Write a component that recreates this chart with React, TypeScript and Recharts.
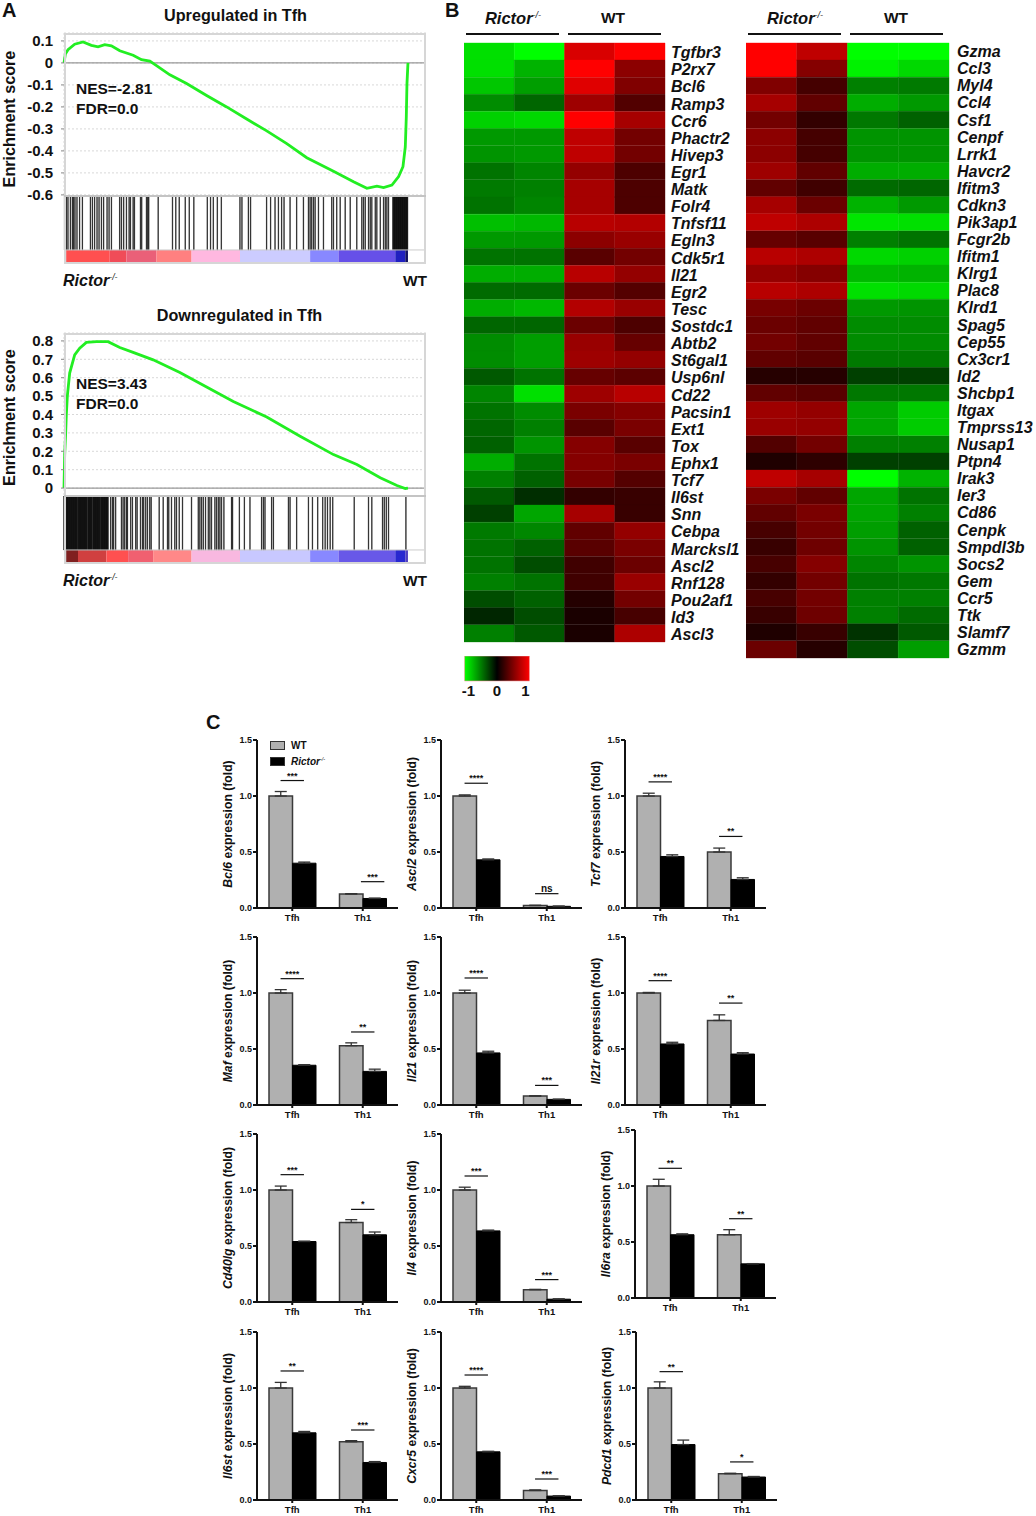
import React from "react";
import {
  Bar,
  BarChart,
  CartesianGrid,
  Cell,
  ComposedChart,
  ErrorBar,
  Legend,
  Line,
  LineChart,
  ReferenceArea,
  ReferenceLine,
  XAxis,
  YAxis,
} from "recharts";

const FONT = '"Liberation Sans", Arial, sans-serif';

// ---- panel A: GSEA running scores, x is gene rank in arbitrary units
const upRank = [0, 4, 12, 32, 57, 82, 102, 122, 142, 167, 207, 232, 257, 277, 317, 367, 427, 487, 547, 607, 667, 727, 807, 867, 907, 937, 957, 982, 1002, 1015, 1022, 1025, 1027, 1030];
const upScore = [0, 0.04, 0.06, 0.085, 0.095, 0.08, 0.073, 0.083, 0.078, 0.055, 0.035, 0.015, 0.008, -0.012, -0.054, -0.094, -0.148, -0.2, -0.255, -0.309, -0.367, -0.431, -0.492, -0.54, -0.57, -0.56, -0.567, -0.555, -0.517, -0.472, -0.382, -0.246, -0.095, 0];
const downRank = [0, 2, 5, 7, 10, 17, 32, 47, 67, 97, 132, 167, 207, 267, 347, 427, 507, 607, 707, 807, 877, 947, 997, 1022, 1030];
const downScore = [0, 0.18, 0.3, 0.4, 0.5, 0.625, 0.724, 0.76, 0.792, 0.796, 0.796, 0.764, 0.738, 0.697, 0.628, 0.549, 0.471, 0.386, 0.282, 0.182, 0.128, 0.056, 0.014, -0.002, 0];

const upHits = [2, 7, 12, 19, 25, 29, 33, 39, 47, 55, 79, 85, 92, 99, 105, 112, 119, 129, 135, 142, 167, 172, 179, 187, 195, 199, 207, 211, 229, 233, 247, 251, 254, 282, 325, 335, 345, 363, 375, 389, 429, 439, 447, 459, 471, 527, 533, 552, 559, 607, 619, 632, 642, 652, 659, 677, 697, 717, 732, 737, 742, 747, 752, 762, 777, 802, 807, 817, 827, 842, 857, 877, 892, 897, 902, 912, 917, 922, 932, 937, 947, 957, 962, 967, 972, 985, 987, 989, 991, 993, 995, 997, 999, 1001, 1003, 1005, 1007, 1009, 1011, 1013, 1015, 1017, 1019, 1021, 1023, 1025, 1027, 1029];
const downHits = [0, 2, 4, 6, 8, 10, 12, 14, 16, 18, 20, 22, 24, 26, 28, 30, 32, 34, 36, 38, 40, 43, 45, 47, 49, 51, 53, 55, 57, 59, 61, 63, 65, 67, 69, 72, 74, 76, 78, 80, 82, 84, 87, 89, 91, 93, 95, 97, 99, 101, 103, 105, 107, 110, 112, 114, 116, 118, 120, 122, 124, 126, 128, 130, 132, 140, 145, 149, 155, 172, 177, 182, 187, 190, 200, 205, 215, 219, 229, 235, 239, 245, 250, 257, 261, 285, 297, 310, 314, 322, 332, 337, 345, 355, 382, 402, 407, 412, 417, 424, 432, 437, 442, 452, 457, 462, 467, 472, 479, 502, 505, 525, 540, 557, 592, 597, 602, 622, 627, 672, 677, 697, 732, 744, 760, 775, 782, 789, 797, 805, 869, 912, 922, 954, 959, 965, 972, 1024];

const upStripEdges = [0, 7, 137, 187, 277, 382, 527, 737, 822, 992, 1022, 1030];
const downStripEdges = [0, 7, 42, 127, 192, 267, 382, 527, 737, 822, 992, 1022, 1030];
const upStripColors = ["#b42828", "#ff5050", "#f04c58", "#ea6078", "#ff8080", "#ffb8e0", "#ccccff", "#8888ff", "#6650e8", "#2020c0", "#101060"];
const downStripColors = ["#300808", "#802020", "#d04040", "#ff5050", "#f06070", "#ff8888", "#f8b8e0", "#c8c8ff", "#8888ff", "#6858e8", "#2828d0", "#5040c0"];

const rankGridTicks = [113, 231, 349, 467, 585, 703, 821, 939, 1057];
const upTicks = [-0.6, -0.5, -0.4, -0.3, -0.2, -0.1, 0, 0.1];
const downTicks = [0, 0.1, 0.2, 0.3, 0.4, 0.5, 0.6, 0.7, 0.8];

// ---- panel B: heatmaps, z-scores for Rictor-/- (2) then WT (2)
const leftGenes = ["Tgfbr3", "P2rx7", "Bcl6", "Ramp3", "Ccr6", "Phactr2", "Hivep3", "Egr1", "Matk", "Folr4", "Tnfsf11", "Egln3", "Cdk5r1", "Il21", "Egr2", "Tesc", "Sostdc1", "Abtb2", "St6gal1", "Usp6nl", "Cd22", "Pacsin1", "Ext1", "Tox", "Ephx1", "Tcf7", "Il6st", "Snn", "Cebpa", "Marcksl1", "Ascl2", "Rnf128", "Pou2af1", "Id3", "Ascl3"];
const leftZ = [
  [-0.88, -1, 0.85, 1], [-0.88, -0.7, 1, 0.55], [-0.78, -0.62, 0.88, 0.5], [-0.55, -0.4, 0.62, 0.32], [-0.82, -0.85, 1, 0.65],
  [-0.6, -0.6, 0.75, 0.45], [-0.58, -0.6, 0.75, 0.45], [-0.45, -0.52, 0.58, 0.3], [-0.48, -0.5, 0.65, 0.3], [-0.45, -0.52, 0.65, 0.3],
  [-0.75, -0.72, 0.72, 0.7], [-0.6, -0.6, 0.55, 0.6], [-0.45, -0.45, 0.35, 0.45], [-0.68, -0.68, 0.72, 0.58], [-0.42, -0.42, 0.42, 0.33],
  [-0.68, -0.72, 0.7, 0.6], [-0.4, -0.4, 0.42, 0.3], [-0.55, -0.62, 0.6, 0.4], [-0.55, -0.62, 0.62, 0.58], [-0.35, -0.45, 0.4, 0.36],
  [-0.52, -0.88, 0.62, 0.72], [-0.45, -0.55, 0.48, 0.52], [-0.4, -0.5, 0.35, 0.48], [-0.38, -0.58, 0.52, 0.35], [-0.68, -0.45, 0.52, 0.48],
  [-0.5, -0.38, 0.47, 0.33], [-0.35, -0.18, 0.2, 0.22], [-0.25, -0.65, 0.65, 0.22], [-0.48, -0.53, 0.38, 0.58], [-0.45, -0.38, 0.35, 0.48],
  [-0.45, -0.3, 0.25, 0.42], [-0.5, -0.45, 0.25, 0.6], [-0.3, -0.38, 0.14, 0.45], [-0.15, -0.3, 0.1, 0.28], [-0.5, -0.35, 0.1, 0.68],
];
const rightGenes = ["Gzma", "Ccl3", "Myl4", "Ccl4", "Csf1", "Cenpf", "Lrrk1", "Havcr2", "Ifitm3", "Cdkn3", "Pik3ap1", "Fcgr2b", "Ifitm1", "Klrg1", "Plac8", "Klrd1", "Spag5", "Cep55", "Cx3cr1", "Id2", "Shcbp1", "Itgax", "Tmprss13", "Nusap1", "Ptpn4", "Irak3", "Ier3", "Cd86", "Cenpk", "Smpdl3b", "Socs2", "Gem", "Ccr5", "Ttk", "Slamf7", "Gzmm"];
const rightZ = [
  [1, 0.75, -1, -1], [1, 0.52, -0.95, -0.85], [0.5, 0.27, -0.5, -0.48], [0.65, 0.38, -0.68, -0.6], [0.45, 0.2, -0.47, -0.38],
  [0.55, 0.27, -0.58, -0.58], [0.55, 0.27, -0.58, -0.58], [0.62, 0.38, -0.68, -0.68], [0.38, 0.25, -0.42, -0.4], [0.65, 0.42, -0.7, -0.6],
  [0.75, 0.68, -0.9, -0.88], [0.4, 0.35, -0.5, -0.45], [0.72, 0.68, -0.85, -0.82], [0.58, 0.52, -0.72, -0.7], [0.72, 0.68, -0.88, -0.85],
  [0.47, 0.42, -0.6, -0.58], [0.42, 0.38, -0.55, -0.55], [0.45, 0.38, -0.55, -0.55], [0.38, 0.35, -0.48, -0.48], [0.15, 0.15, -0.25, -0.25],
  [0.38, 0.35, -0.47, -0.47], [0.62, 0.58, -0.65, -0.8], [0.6, 0.58, -0.65, -0.8], [0.32, 0.45, -0.5, -0.5], [0.12, 0.18, -0.25, -0.25],
  [0.75, 0.65, -1, -0.7], [0.48, 0.38, -0.65, -0.45], [0.38, 0.48, -0.65, -0.5], [0.28, 0.45, -0.62, -0.38], [0.22, 0.43, -0.58, -0.38],
  [0.28, 0.52, -0.52, -0.58], [0.2, 0.45, -0.45, -0.47], [0.28, 0.45, -0.5, -0.5], [0.22, 0.43, -0.5, -0.42], [0.12, 0.22, -0.2, -0.35],
  [0.42, 0.15, -0.3, -0.62],
];
const sampleKeys = ["ko1", "ko2", "wt1", "wt2"];
const scaleTicks = [-1, 0, 1];

// ---- panel C: qPCR bars, [Tfh, Th1] per panel
const panelGenes = ["Bcl6", "Ascl2", "Tcf7", "Maf", "Il21", "Il21r", "Cd40lg", "Il4", "Il6ra", "Il6st", "Cxcr5", "Pdcd1"];
const groups = ["Tfh", "Th1"];
const wtValues = [[1, 0.125], [1, 0.022], [1, 0.5], [1, 0.53], [1, 0.08], [1, 0.755], [1, 0.71], [1, 0.11], [1, 0.565], [1, 0.52], [1, 0.085], [1, 0.235]];
const koValues = [[0.4, 0.085], [0.43, 0.015], [0.46, 0.255], [0.355, 0.3], [0.465, 0.05], [0.545, 0.455], [0.54, 0.6], [0.635, 0.025], [0.565, 0.305], [0.6, 0.335], [0.43, 0.035], [0.495, 0.205]];
const wtErrors = [[0.04, 0.003], [0.01, 0.002], [0.025, 0.035], [0.03, 0.025], [0.025, 0.002], [0.005, 0.05], [0.035, 0.025], [0.025, 0.003], [0.06, 0.045], [0.05, 0.01], [0.015, 0.005], [0.055, 0.004]];
const koErrors = [[0.01, 0.003], [0.008, 0.002], [0.015, 0.015], [0.005, 0.02], [0.015, 0.002], [0.015, 0.012], [0.003, 0.025], [0.007, 0.003], [0.008, 0.002], [0.012, 0.008], [0.005, 0.003], [0.04, 0.005]];
const sigLabels = [["***", "***"], ["****", "ns"], ["****", "**"], ["****", "**"], ["****", "***"], ["****", "**"], ["***", "*"], ["***", "***"], ["**", "**"], ["**", "***"], ["****", "***"], ["**", "*"]];
const sigHeights = [[1.138, 0.235], [1.114, 0.128], [1.126, 0.639], [1.128, 0.652], [1.134, 0.175], [1.11, 0.91], [1.137, 0.827], [1.125, 0.2], [1.158, 0.708], [1.152, 0.625], [1.116, 0.1875], [1.146, 0.34]];
const foldTicks = [0, 0.5, 1, 1.5];

// where each of the twelve small charts sits: y-axis x, value 1.5 y
const panelSpots = [
  [257, 740], [441, 740], [625, 740],
  [257, 937], [441, 937], [625, 937],
  [257, 1134], [441, 1134], [635, 1130],
  [257, 1332], [441, 1332], [636, 1332],
];

const zColor = (z: number) =>
  z >= 0 ? `rgb(${Math.round(255 * z)},0,0)` : `rgb(0,${Math.round(-255 * z)},0)`;

function Rictor({ size }: { size: number }) {
  return (
    <span style={{ fontStyle: "italic", fontWeight: "bold", fontSize: size, whiteSpace: "nowrap" }}>
      Rictor
      <span style={{ fontSize: size * 0.55, position: "relative", top: -size * 0.35, fontWeight: "normal" }}>-/-</span>
    </span>
  );
}

function Place({ x, y, center, right, children, style }: any) {
  const shift = center ? "translate(-50%,-50%)" : right ? "translate(-100%,-50%)" : "translateY(-50%)";
  return (
    <div style={{ position: "absolute", left: x, top: y, transform: shift, whiteSpace: "nowrap", color: "#111", fontWeight: "bold", ...style }}>
      {children}
    </div>
  );
}

function GseaPanel({ top, title, titleX, nes, ranks, scores, hits, edges, colors, ticks, domain, plotH, nesY, labelShift }: any) {
  const rows = ranks.map((rank: number, i: number) => ({ rank, score: scores[i] }));
  const hitRows = hits.map((rank: number) => ({ rank, hit: 1 }));
  return (
    <>
      <Place x={titleX} y={top - 18.5} center style={{ fontSize: 16.2 }}>{title}</Place>
      <div style={{ position: "absolute", left: 0, top: top + plotH }}>
        <ComposedChart width={426} height={68} data={hitRows} margin={{ top: 0, right: 0, bottom: 0, left: 0 }}>
          <XAxis dataKey="rank" type="number" domain={[0, 1084]} ticks={rankGridTicks} tick={false} tickLine={false} axisLine={false} height={0} />
          <YAxis type="number" domain={[-0.26, 1]} width={64} tick={false} tickLine={false} axisLine={false} />
          {colors.map((c: string, i: number) => (
            <ReferenceArea key={i} x1={edges[i]} x2={edges[i + 1]} y1={-0.26} y2={0} fill={c} fillOpacity={1} stroke="none" />
          ))}
          <ReferenceLine y={0} stroke="#ccc" />
          <Bar dataKey="hit" fill="#000" stroke="#000" strokeWidth={0.4} barSize={1.4} isAnimationActive={false} />
        </ComposedChart>
      </div>
      <div style={{ position: "absolute", left: 0, top: top - 8 }}>
        <LineChart width={426} height={plotH + 16} data={rows} margin={{ top: 8, right: 0, bottom: 8, left: 0 }}>
          <CartesianGrid stroke="#d8d8d8" strokeDasharray="2 2" />
          <XAxis dataKey="rank" type="number" domain={[0, 1084]} ticks={rankGridTicks} tick={false} tickLine={false} axisLine={false} height={0} />
          <YAxis
            type="number"
            domain={domain}
            ticks={ticks}
            interval={0}
            width={64}
            axisLine={false}
            tickSize={3}
            tickMargin={8}
            stroke="#888"
            tick={{ fontSize: 15, fontWeight: "bold", fill: "#111" }}
            tickFormatter={(v: number) => String(v)}
            label={({ viewBox }: any) => {
              const cy = viewBox.y + viewBox.height / 2 + labelShift;
              return (
                <text x={9} y={cy} transform={`rotate(-90 9 ${cy})`} textAnchor="middle" dominantBaseline="central" fontSize={16.2} fontWeight="bold" fill="#111">
                  Enrichment score
                </text>
              );
            }}
          />
          <ReferenceLine y={0} stroke="#999" strokeWidth={1.2} />
          <Line dataKey="score" type="linear" stroke="#22ee22" strokeWidth={2.8} dot={false} isAnimationActive={false} />
        </LineChart>
      </div>
      <div style={{ position: "absolute", left: 64, top, width: 362, height: plotH + 68, border: "2px solid #d6d6d6", boxSizing: "border-box" }} />
      <div style={{ position: "absolute", left: 64, top: top + plotH - 1, width: 362, height: 2, background: "#c4c4c4" }} />
      <Place x={76} y={nesY} style={{ fontSize: 15.5 }}>{nes}</Place>
      <Place x={76} y={nesY + 19.5} style={{ fontSize: 15.5 }}>FDR=0.0</Place>
      <Place x={63} y={top + 248} style={{ fontSize: 16 }}><Rictor size={16} /></Place>
      <Place x={427} y={top + 248} right style={{ fontSize: 15.5 }}>WT</Place>
    </>
  );
}

function Heatmap({ left, width, height, genes, z, labelWidth, labelGap, labelDy }: any) {
  const rows = genes.map((gene: string) => ({ gene, ko1: 1, ko2: 1, wt1: 1, wt2: 1 }));
  return (
    <div style={{ position: "absolute", left, top: 39 }}>
      <BarChart width={width + labelWidth} height={height + 8} data={rows} layout="vertical" barCategoryGap={0} margin={{ top: 4, right: 0, bottom: 4, left: 0 }}>
        <XAxis type="number" domain={[0, 4]} hide />
        <YAxis
          type="category"
          dataKey="gene"
          orientation="right"
          width={labelWidth}
          interval={0}
          axisLine={false}
          tickLine={false}
          tickSize={labelGap}
          tickMargin={0}
          tick={{ fontSize: 16, fontWeight: "bold", fontStyle: "italic", fill: "#111", dy: labelDy }}
        />
        {sampleKeys.map((key, col) => (
          <Bar key={key} dataKey={key} stackId="s" isAnimationActive={false}>
            {rows.map((_: any, row: number) => (
              <Cell key={row} fill={zColor(z[row][col])} stroke={zColor(z[row][col])} strokeWidth={0.4} />
            ))}
          </Bar>
        ))}
      </BarChart>
    </div>
  );
}

function ColorScale() {
  return (
    <div style={{ position: "absolute", left: 454, top: 656 }}>
      <BarChart width={86} height={50} data={[{ v: 0, h: 1 }]} margin={{ top: 0, right: 0, bottom: 0, left: 0 }}>
        <defs>
          <linearGradient id="zScale" x1="0" x2="1" y1="0" y2="0">
            <stop offset="0" stopColor="#00ff00" />
            <stop offset="0.5" stopColor="#000" />
            <stop offset="1" stopColor="#ff0000" />
          </linearGradient>
        </defs>
        <XAxis
          dataKey="v"
          type="number"
          domain={[-1.51, 1.51]}
          ticks={scaleTicks}
          interval={0}
          axisLine={false}
          tickLine={false}
          height={25}
          tickSize={0}
          tickMargin={4}
          tick={{ fontSize: 15, fontWeight: "bold", fill: "#111" }}
        />
        <YAxis type="number" domain={[0, 1]} width={0} tick={false} tickLine={false} axisLine={false} />
        <ReferenceArea x1={-1.14} x2={1.14} y1={0} y2={1} fill="url(#zScale)" fillOpacity={1} stroke="#f4a0a0" strokeWidth={0.6} />
        <Bar dataKey="h" fill="none" stroke="none" isAnimationActive={false} />
      </BarChart>
    </div>
  );
}

function FoldLegend({ payload }: any) {
  return (
    <div style={{ fontFamily: FONT }}>
      {(payload || []).map((item: any) => (
        <div key={item.value} style={{ display: "flex", alignItems: "center", height: 16, fontSize: 10, fontWeight: "bold", color: "#111" }}>
          <span style={{ width: 13, height: 7, background: item.color, border: "1.5px solid #333", marginRight: 6, display: "inline-block" }} />
          {item.value === "WT" ? "WT" : <Rictor size={10} />}
        </div>
      ))}
    </div>
  );
}

function FoldPanel({ index }: { index: number }) {
  const [axisX, topY] = panelSpots[index];
  const gene = panelGenes[index];
  const rows = groups.map((group, i) => ({
    pos: i + 0.5,
    group,
    wt: wtValues[index][i],
    ko: koValues[index][i],
    wtErr: [0, wtErrors[index][i]],
    koErr: [0, koErrors[index][i]],
  }));
  return (
    <div style={{ position: "absolute", left: axisX - 50, top: topY - 10 }}>
      <BarChart width={201} height={202} data={rows} barGap={0} margin={{ top: 10, right: 10, bottom: 0, left: 0 }}>
        <XAxis
          dataKey="pos"
          type="number"
          domain={[0, 2]}
          ticks={[0.5, 1.5]}
          interval={0}
          height={24}
          stroke="#111"
          strokeWidth={2}
          tickSize={3}
          tickMargin={3}
          tick={{ fontSize: 9.5, fontWeight: "bold", fill: "#111" }}
          tickFormatter={(v: number) => groups[Math.floor(v)]}
        />
        <YAxis
          type="number"
          domain={[0, 1.5]}
          ticks={foldTicks}
          interval={0}
          width={50}
          stroke="#111"
          strokeWidth={2}
          tickSize={4}
          tickMargin={1}
          tick={{ fontSize: 9, fontWeight: "bold", fill: "#111" }}
          tickFormatter={(v: number) => v.toFixed(1)}
          label={({ viewBox }: any) => {
            const cy = viewBox.y + viewBox.height / 2;
            return (
              <text x={21} y={cy} transform={`rotate(-90 21 ${cy})`} textAnchor="middle" dominantBaseline="central" fontSize={12.2} fontWeight="bold" fill="#111">
                <tspan fontStyle="italic">{gene}</tspan> expression (fold)
              </text>
            );
          }}
        />
        {index === 0 && (
          <Legend
            layout="horizontal"
            verticalAlign="middle"
            align="center"
            itemSorter={null}
            content={<FoldLegend />}
            wrapperStyle={{ left: 63, top: 7, width: 90, height: 32 }}
          />
        )}
        <Bar dataKey="wt" name="WT" fill="#b0b0b0" stroke="#3a3a3a" strokeWidth={1.5} barSize={23.5} isAnimationActive={false}>
          <ErrorBar dataKey="wtErr" direction="y" width={6} stroke="#333" strokeWidth={1.3} isAnimationActive={false} />
        </Bar>
        <Bar dataKey="ko" name="Rictor-/-" fill="#000" stroke="#000" strokeWidth={1} barSize={23.5} isAnimationActive={false}>
          <ErrorBar dataKey="koErr" direction="y" width={6} stroke="#333" strokeWidth={1.3} isAnimationActive={false} />
        </Bar>
        {groups.map((group, i) => {
          // Bcl6 Th1 bracket sits off-centre in the original
          const mid = index === 0 && i === 1 ? 1.64 : i + 0.5;
          return (
            <ReferenceLine
              key={group}
              segment={[
                { x: mid - 0.166, y: sigHeights[index][i] },
                { x: mid + 0.166, y: sigHeights[index][i] },
              ]}
              stroke="#111"
              strokeWidth={1.2}
              label={{ value: sigLabels[index][i], position: "top", offset: 2, fontSize: sigLabels[index][i] === "ns" ? 10 : 9, fontWeight: "bold", fill: "#111" }}
            />
          );
        })}
      </BarChart>
    </div>
  );
}

function HeatHeader({ x1, x2, x3, x4, koX, wtX }: any) {
  const line = (a: number, b: number) => (
    <div style={{ position: "absolute", left: a, top: 32.5, width: b - a, height: 2, background: "#111" }} />
  );
  return (
    <>
      <Place x={koX} y={18} center><Rictor size={16.5} /></Place>
      <Place x={wtX} y={18} center style={{ fontSize: 15.5 }}>WT</Place>
      {line(x1, x2)}
      {line(x3, x4)}
    </>
  );
}

export default function App() {
  return (
    <div style={{ position: "absolute", left: 0, top: 0, width: 1036, height: 1516, background: "#fff", fontFamily: FONT, overflow: "hidden" }}>
      <Place x={2} y={10} style={{ fontSize: 20 }}>A</Place>
      <Place x={445} y={10} style={{ fontSize: 20 }}>B</Place>
      <Place x={206} y={722} style={{ fontSize: 20 }}>C</Place>

      <GseaPanel top={33} title="Upregulated in Tfh" titleX={235.5} nes="NES=-2.81" ranks={upRank} scores={upScore} hits={upHits} edges={upStripEdges} colors={upStripColors} ticks={upTicks} domain={[-0.605, 0.136]} plotH={163} nesY={89} labelShift={4.5} />
      <GseaPanel top={333} title="Downregulated in Tfh" titleX={239.5} nes="NES=3.43" ranks={downRank} scores={downScore} hits={downHits} edges={downStripEdges} colors={downStripColors} ticks={downTicks} domain={[-0.043, 0.843]} plotH={163} nesY={384} labelShift={3} />

      <HeatHeader x1={465.5} x2={559} x3={567.5} x4={660.5} koX={513} wtX={613} />
      <HeatHeader x1={748} x2={841} x3={849.5} x4={943} koX={795} wtX={896} />
      <Heatmap left={464} width={201} height={599} genes={leftGenes} z={leftZ} labelWidth={90} labelGap={6} labelDy={1} />
      <Heatmap left={746} width={203} height={615} genes={rightGenes} z={rightZ} labelWidth={87} labelGap={8} labelDy={0} />
      <ColorScale />

      {panelGenes.map((gene, i) => (
        <FoldPanel key={gene} index={i} />
      ))}
    </div>
  );
}
